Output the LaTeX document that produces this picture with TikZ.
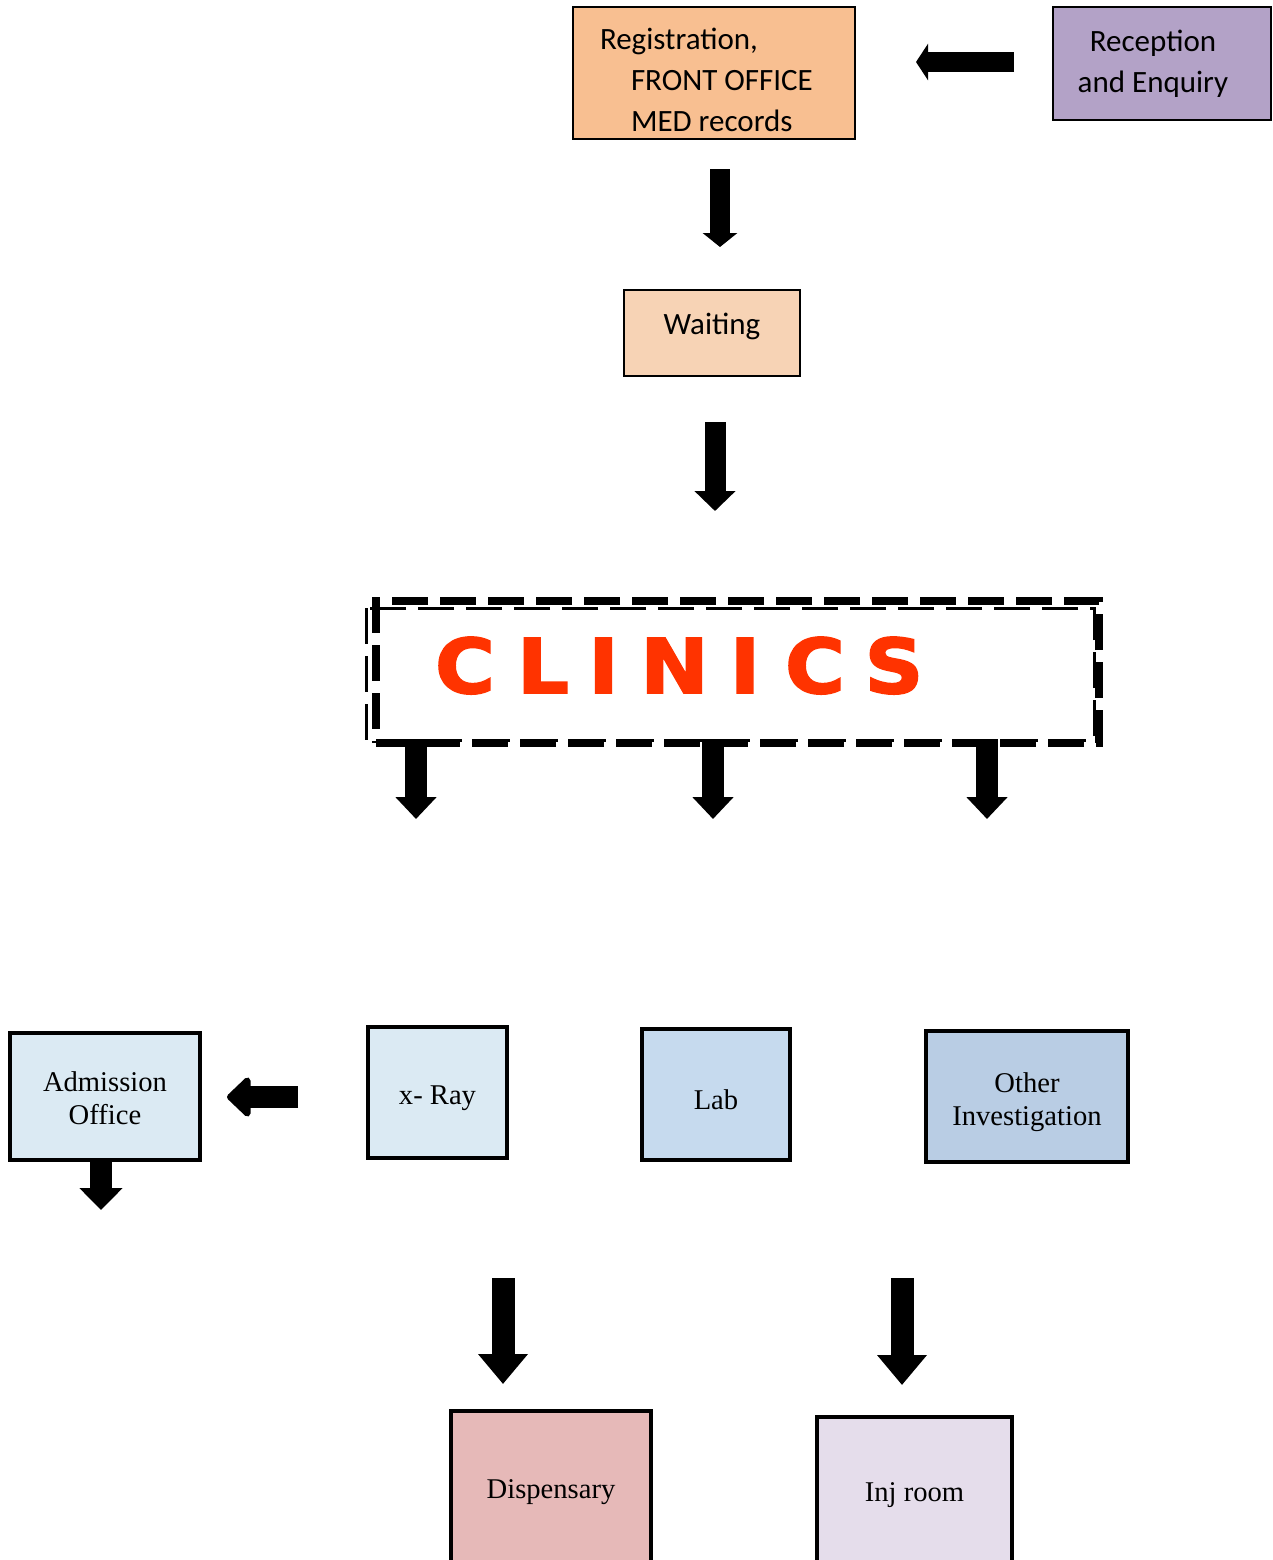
\documentclass[tikz,border=0pt]{standalone}
\usepackage{fontspec}
\setmainfont{Liberation Serif}
\newfontfamily\calib{Carlito}
\newfontfamily\clinfont{DejaVu Sans}[FakeBold=2.5, FakeStretch=1.08]
\usetikzlibrary{arrows.meta, positioning}

\definecolor{regorange}{HTML}{F8BF91}
\definecolor{recpurple}{HTML}{B3A2C7}
\definecolor{waitpeach}{HTML}{F7D3B5}
\definecolor{paleblue}{HTML}{DBEAF3}
\definecolor{labblue}{HTML}{C6DAEE}
\definecolor{invblue}{HTML}{B9CDE4}
\definecolor{disppink}{HTML}{E6B9B8}
\definecolor{injlilac}{HTML}{E5DDEB}
\definecolor{clinred}{HTML}{FF3300}

% strut that pushes a node's text down
\newcommand{\lift}[1]{\rule{0pt}{#1}}

\tikzset{
  office/.style={draw, line width=1pt, inner sep=0pt, align=center,
    font=\calib\fontsize{15.5pt}{20.5pt}\selectfont},
  unit/.style={draw, line width=2pt, inner sep=0pt, align=center,
    font=\fontsize{14.3pt}{16.5pt}\selectfont},
  blockarrow/.style n args={3}{line width=#1, -{Triangle[width=#2, length=#3]}},
  clinletter/.style={anchor=base, inner sep=0pt, text=clinred,
    font=\clinfont\bfseries\fontsize{37.7pt}{40pt}\selectfont},
  clindash/.style={dash pattern=on 18pt off 6pt},
}

\begin{document}
\begin{tikzpicture}[x=0.5pt, y=-0.5pt]
  \useasboundingbox (0,0) rectangle (1273,1560);
  \clip (0,0) rectangle (1273,1560);
  %
  \node[office, fill=regorange, minimum width=141pt, minimum height=66pt, inner xsep=13.5pt,
        text width=114pt, align=flush left] (reg) at (714,73)
    {\lift{17.6pt}Registration,\\\hspace*{15.5pt}FRONT OFFICE\\\hspace*{15.5pt}MED records};
  \node[office, fill=recpurple, minimum width=109pt, minimum height=56.5pt] (rec) at (1162,63.5)
    {Reception\hspace*{9pt}\\and Enquiry\hspace*{9pt}};
  \node[office, fill=waitpeach, minimum width=88pt, minimum height=43pt, text depth=9pt] (wait) at (712,333) {Waiting};
  %
  \node[draw, line width=4pt, clindash, minimum width=361.5pt, minimum height=71pt, inner sep=0pt] (clinics) at (737.5,672) {};
  \draw[line width=1.5pt, clindash] ([shift={(-6,11)}]clinics.north west) rectangle ([shift={(-9,-7)}]clinics.south east);
  \foreach \ch/\px [count=\i] in {C/465, L/543, I/603.5, N/674.5, I/745, C/815, S/894}
    \node[clinletter] (clin\i) at (\px,693) {\ch};
  %
  \node[unit, fill=paleblue, minimum width=95pt, minimum height=63.5pt] (adm) at (105,1096.5) {\lift{11.7pt}Admission\\Office};
  \node[unit, fill=paleblue, minimum width=69.5pt, minimum height=65.5pt] (xray) at (437.5,1092.5) {\lift{15.5pt}x- Ray};
  \node[unit, fill=labblue, minimum width=74pt, minimum height=65.5pt] (lab) at (716,1094.5) {\lift{15.5pt}Lab};
  \node[unit, fill=invblue, minimum width=101pt, minimum height=65.5pt] (other) at (1027,1096.5) {\lift{15.2pt}Other\\Investigation};
  \node[unit, fill=disppink, minimum width=100pt, minimum height=80pt] (disp) at (551,1491) {\lift{11pt}Dispensary};
  \node[unit, fill=injlilac, minimum width=97.5pt, minimum height=77pt] (inj) at (914.5,1494) {\lift{11pt}Inj room};
  %
  \draw[blockarrow={10pt}{18pt}{6pt}] ([shift={(-38,-1.5)}]rec.west) -- ++(-98,0);
  \draw[blockarrow={10pt}{17pt}{7pt}] ([shift={(6,29)}]reg.south) -- ++(0,78);
  \draw[blockarrow={10.5pt}{20pt}{10pt}] ([shift={(3,45)}]wait.south) -- ++(0,89);
  \draw[blockarrow={11pt}{20pt}{11pt}] ([shift={(-321.5,-8)}]clinics.south) -- ++(0,80);
  \draw[blockarrow={11pt}{20pt}{11pt}] ([shift={(-24.5,-8)}]clinics.south) -- ++(0,80);
  \draw[blockarrow={11pt}{20pt}{11pt}] ([shift={(249.5,-8)}]clinics.south) -- ++(0,80);
  \draw[line width=11pt, -{Triangle[round, width=23pt, length=12.5pt]}] ([shift={(-68,4.5)}]xray.west) -- ++(-71,0);
  \draw[blockarrow={11pt}{21pt}{11pt}] ([shift={(-4,0)}]adm.south) -- ++(0,48);
  \draw[blockarrow={11.5pt}{24pt}{15pt}] ([shift={(-48,-131)}]disp.north) -- ++(0,106);
  \draw[blockarrow={11.5pt}{24pt}{15pt}] ([shift={(-12.5,-137)}]inj.north) -- ++(0,107);
\end{tikzpicture}
\end{document}
